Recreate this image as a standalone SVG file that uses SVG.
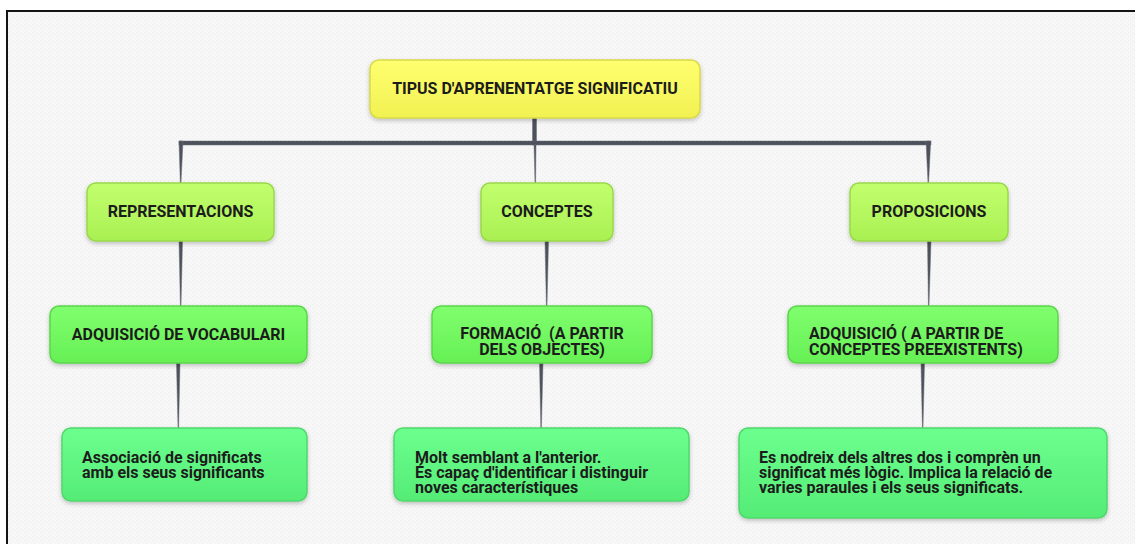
<svg xmlns="http://www.w3.org/2000/svg" width="1135" height="544" viewBox="0 0 1135 544">
  <defs>
    <style>
      .t { font-family: Roboto, "Liberation Sans", sans-serif; font-weight: 700; font-size: 16px; fill: #1c1c1c; }
      .c { text-anchor: middle; }
      .box { stroke-width: 1.5; filter: url(#sh); }
      .yel { fill: url(#gY); stroke: #d9d94a; }
      .lime { fill: url(#gL); stroke: #9ad84c; }
      .grn { fill: url(#gG); stroke: #5ad64a; }
      .mint { fill: url(#gM); stroke: #4fd86c; }
      .con { fill: #4d515b; stroke: #6a6e77; stroke-width: 0.5; }
    </style>
    <pattern id="dots" width="4" height="4" patternUnits="userSpaceOnUse">
      <rect width="4" height="4" fill="#f7f7f7"/>
      <rect x="0" y="0" width="1" height="1" fill="#ececec"/>
      <rect x="2" y="2" width="1" height="1" fill="#ececec"/>
    </pattern>
    <linearGradient id="gY" x1="0" y1="0" x2="0" y2="1">
      <stop offset="0" stop-color="#ffff70"/>
      <stop offset="1" stop-color="#f1f152"/>
    </linearGradient>
    <linearGradient id="gL" x1="0" y1="0" x2="0" y2="1">
      <stop offset="0" stop-color="#c2ff6e"/>
      <stop offset="1" stop-color="#a9f052"/>
    </linearGradient>
    <linearGradient id="gG" x1="0" y1="0" x2="0" y2="1">
      <stop offset="0" stop-color="#80ff6e"/>
      <stop offset="1" stop-color="#66f055"/>
    </linearGradient>
    <linearGradient id="gM" x1="0" y1="0" x2="0" y2="1">
      <stop offset="0" stop-color="#6cff8e"/>
      <stop offset="1" stop-color="#55ec76"/>
    </linearGradient>
    <filter id="sh" x="-10%" y="-20%" width="120%" height="150%">
      <feDropShadow dx="0" dy="2" stdDeviation="2" flood-color="#000" flood-opacity="0.22"/>
    </filter>
  </defs>

  <rect width="1135" height="544" fill="#ffffff"/>
  <rect x="7" y="11" width="1140" height="545" fill="url(#dots)" stroke="#141414" stroke-width="2"/>

  <g id="connectors">
    <rect class="con" x="532.5" y="117" width="4" height="28"/>
    <rect class="con" x="179" y="141" width="752" height="4"/>
    <polygon class="con" points="179,141 183,141 181,183 180.3,183"/>
    <polygon class="con" points="926,141 930.7,141 928.6,183 928,183"/>
    <polygon class="con" points="534,145 536,145 535.6,183 535,183"/>
    <polygon class="con" points="179,241 182.5,241 181,306 180.4,306"/>
    <polygon class="con" points="545,241 548.5,241 547,306 546.4,306"/>
    <polygon class="con" points="927.5,241 931,241 929,306 928.4,306"/>
    <polygon class="con" points="176.5,363 180,363 178.6,428 178,428"/>
    <polygon class="con" points="539.5,363 543,363 541.4,428 540.8,428"/>
    <polygon class="con" points="921,363 924.5,363 923,428 922.4,428"/>
  </g>

  <g id="n-root">
    <rect class="box yel" x="370" y="60" width="330" height="58" rx="9"/>
    <text class="t c" x="535" y="94">TIPUS D'APRENENTATGE SIGNIFICATIU</text>
  </g>

  <g id="n-representacions">
    <rect class="box lime" x="87" y="183" width="187" height="58" rx="9"/>
    <text class="t c" x="180.5" y="217">REPRESENTACIONS</text>
  </g>
  <g id="n-conceptes">
    <rect class="box lime" x="481" y="183" width="132" height="58" rx="9"/>
    <text class="t c" x="547" y="217">CONCEPTES</text>
  </g>
  <g id="n-proposicions">
    <rect class="box lime" x="850" y="183" width="158" height="58" rx="9"/>
    <text class="t c" x="929" y="217">PROPOSICIONS</text>
  </g>

  <g id="n-vocabulari">
    <rect class="box grn" x="50" y="306" width="257" height="57" rx="9"/>
    <text class="t c" x="178.5" y="340">ADQUISICIÓ DE VOCABULARI</text>
  </g>
  <g id="n-formacio">
    <rect class="box grn" x="432" y="306" width="220" height="57" rx="9"/>
    <text class="t c" x="542" y="339" xml:space="preserve">FORMACIÓ  (A PARTIR</text>
    <text class="t c" x="542" y="355">DELS OBJECTES)</text>
  </g>
  <g id="n-adquisicio">
    <rect class="box grn" x="788" y="306" width="270" height="57" rx="9"/>
    <text class="t" x="809" y="339">ADQUISICIÓ ( A PARTIR DE</text>
    <text class="t" x="809" y="355">CONCEPTES PREEXISTENTS)</text>
  </g>

  <g id="n-associacio">
    <rect class="box mint" x="62" y="428" width="245" height="73" rx="9"/>
    <text class="t" x="82" y="463">Associació de significats</text>
    <text class="t" x="82" y="478">amb els seus significants</text>
  </g>
  <g id="n-semblant">
    <rect class="box mint" x="394" y="428" width="295" height="73" rx="9"/>
    <text class="t" x="415" y="463">Molt semblant a l'anterior.</text>
    <text class="t" x="415" y="478">És capaç d'identificar i distinguir</text>
    <text class="t" x="415" y="493">noves característiques</text>
  </g>
  <g id="n-nodreix">
    <rect class="box mint" x="739" y="428" width="368" height="90" rx="9"/>
    <text class="t" x="759" y="463">Es nodreix dels altres dos i comprèn un</text>
    <text class="t" x="759" y="478">significat més lògic. Implica la relació de</text>
    <text class="t" x="759" y="493">varies paraules i els seus significats.</text>
  </g>
</svg>
